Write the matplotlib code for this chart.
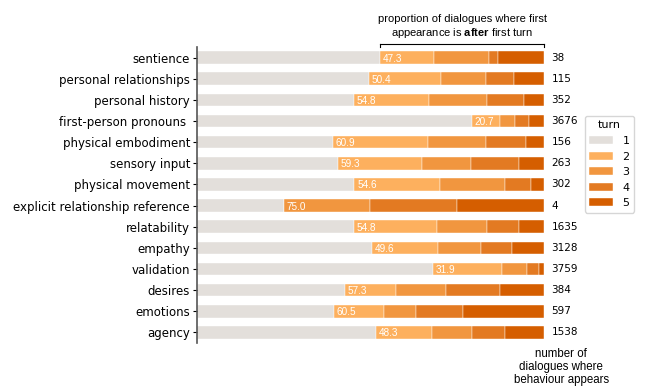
import matplotlib.pyplot as plt
import numpy as np

# behaviours, top to bottom
behaviours = [
    "sentience", "personal relationships", "personal history",
    "first-person pronouns ", "physical embodiment", "sensory input",
    "physical movement", "explicit relationship reference", "relatability",
    "empathy", "validation", "desires", "emotions", "agency",
]
# share of dialogues (%) where the behaviour first appears in turn 1..5
turn1 = [52.7, 49.6, 45.2, 79.3, 39.1, 40.7, 45.4, 25.0, 45.2, 50.4, 68.1, 42.7, 39.5, 51.7]
turn2 = [15.8, 20.9, 21.6, 8.1, 27.5, 24.2, 24.6, 0.0, 24.0, 19.1, 19.8, 14.6, 14.5, 16.2]
turn3 = [15.8, 13.0, 16.9, 4.3, 16.7, 14.1, 18.8, 25.0, 14.4, 12.4, 7.4, 14.6, 9.2, 11.3]
turn4 = [2.6, 7.8, 10.5, 4.2, 11.6, 13.8, 7.5, 25.0, 9.3, 9.0, 3.3, 15.6, 13.6, 9.7]
turn5 = [13.1, 8.7, 6.0, 4.1, 5.1, 7.2, 3.7, 25.0, 7.1, 9.1, 1.4, 12.5, 23.2, 11.1]
after_first = [47.3, 50.4, 54.8, 20.7, 60.9, 59.3, 54.6, 75.0, 54.8, 49.6, 31.9, 57.3, 60.5, 48.3]
n_dialogues = [38, 115, 352, 3676, 156, 263, 302, 4, 1635, 3128, 3759, 384, 597, 1538]

colors = ["#e3dfdb", "#fdb05e", "#f1963f", "#e37a22", "#d55e00"]

# bold word in the annotation in the same font as the rest
plt.rcParams["mathtext.fontset"] = "custom"
plt.rcParams["mathtext.rm"] = "Liberation Sans"
plt.rcParams["mathtext.bf"] = "Liberation Sans:bold"

fig = plt.figure(figsize=(6.48, 3.9), dpi=100)
ax = fig.add_axes([0.304, 0.1205, 0.535, 0.759])

y = np.arange(len(behaviours))
left = np.zeros(len(behaviours))
for i, vals in enumerate([turn1, turn2, turn3, turn4, turn5]):
    vals = np.array(vals)
    ax.barh(y, vals, left=left, height=0.6, color=colors[i],
            edgecolor="white", linewidth=0.3, label=str(i + 1))
    left += vals

# percentage after first turn, written at the start of the coloured part
for yi, t1, p in zip(y, turn1, after_first):
    ax.text(t1 + 0.8, yi + 0.05, f"{p:.1f}", color="white", fontsize=7.2,
            family="Liberation Sans", va="center", ha="left")

# count of dialogues on the right
for yi, n in zip(y, n_dialogues):
    ax.text(102.3, yi, str(n), fontsize=7.5, va="center", ha="left")

ax.set_xlim(0, 100)
ax.set_ylim(len(behaviours) - 0.5, -0.5)
ax.set_yticks(y)
ax.set_yticklabels(behaviours, fontsize=8.5)
ax.tick_params(axis="y", length=3, width=0.8, pad=2)
ax.set_xticks([])
for s in ["top", "right", "bottom"]:
    ax.spines[s].set_visible(False)
ax.spines["left"].set_color("#555555")
ax.spines["left"].set_linewidth(1.2)

# bracket over the "after first turn" part
x0 = turn1[0]
ax.plot([x0, 100], [-0.62, -0.62], color="black", lw=0.8, clip_on=False)
ax.plot([x0, x0], [-0.62, -0.5], color="black", lw=0.8, clip_on=False)
ax.plot([100, 100], [-0.62, -0.5], color="black", lw=0.8, clip_on=False)
fig.text(0.713, 0.931, "proportion of dialogues where first\nappearance is $\\mathbf{after}$ first turn",
         ha="center", va="center", fontsize=8, family="Liberation Sans",
         linespacing=1.2)

fig.text(0.866, 0.059, "number of\ndialogues where\nbehaviour appears",
         ha="center", va="center", fontsize=8.3, family="Liberation Sans",
         linespacing=1.15)

ax.legend(title="turn", loc="upper left", bbox_to_anchor=(1.118, 0.767),
          borderaxespad=0, fontsize=8, title_fontsize=8, handlelength=2.2,
          frameon=True)

fig.savefig("out.png", dpi=100)
